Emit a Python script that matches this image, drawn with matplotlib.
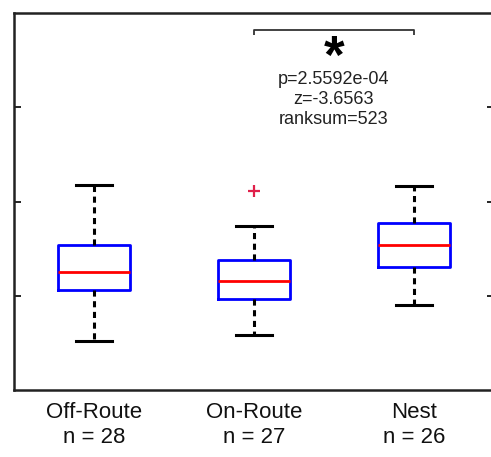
import matplotlib
matplotlib.use("Agg")
import matplotlib.pyplot as plt

# ---- data ----
categories = ["Off-Route", "On-Route", "Nest"]
n_counts = [28, 27, 26]
whisker_low = [0.52, 0.585, 0.905]
q1 = [1.06, 0.97, 1.31]
median = [1.25, 1.155, 1.54]
q3 = [1.54, 1.38, 1.77]
whisker_high = [2.18, 1.735, 2.16]
fliers = [[], [2.115], []]
yticks = [1, 2, 3]
stat_text = ["p=2.5592e-04", "z=-3.6563", "ranksum=523"]
sig_pair = (2, 3)

plt.rcParams['font.family'] = ['Liberation Sans', 'DejaVu Sans']

fig = plt.figure(figsize=(4.91, 4.57), dpi=100)
W, H = 491, 457
ax = fig.add_axes([14 / W, (H - 390) / H, (494 - 14) / W, (390 - 13) / H])

stats = []
for i in range(len(categories)):
    stats.append(dict(med=median[i], q1=q1[i], q3=q3[i],
                      whislo=whisker_low[i], whishi=whisker_high[i],
                      fliers=fliers[i], label=f"{categories[i]}\nn = {n_counts[i]}"))

positions = list(range(1, len(categories) + 1))
ax.bxp(stats, positions=positions, widths=0.45, capwidths=0.23,
       showfliers=True,
       boxprops=dict(color='#0000FF', linewidth=2),
       medianprops=dict(color='#FF0000', linewidth=2),
       whiskerprops=dict(color='black', linewidth=2.2, linestyle=(0, (2.0, 1.5))),
       capprops=dict(color='black', linewidth=2.2),
       flierprops=dict(marker='+', markeredgecolor='#E0204A', markersize=8,
                       markeredgewidth=1.6, linestyle='none'))

ax.set_xlim(0.5, 3.5)
ax.set_ylim(0, 4)
ax.set_yticks(yticks)
ax.set_yticklabels([])
ax.tick_params(axis='y', direction='in', length=5, width=1.2, left=True, right=True)
ax.tick_params(axis='x', length=0, pad=9)
for lbl in ax.get_xticklabels():
    lbl.set_fontsize(16)
    lbl.set_linespacing(1.2)
    lbl.set_color('#111111')
for s in ax.spines.values():
    s.set_linewidth(1.8)
    s.set_color('#222222')

# significance bracket
x1, x2 = sig_pair
yb, yt = 3.77, 3.82
ax.plot([x1, x1, x2, x2], [yb, yt, yt, yb], color='#333333', linewidth=1.3,
        solid_capstyle='butt')
xm = (x1 + x2) / 2
ax.text(xm, 3.51, "*", ha='center', va='center', fontsize=38, fontweight='bold',
        color='black')
ax.text(xm, 3.085, "\n".join(stat_text), ha='center', va='center',
        fontsize=13, linespacing=1.22, color='#222222')

fig.savefig("out.png", dpi=100)
